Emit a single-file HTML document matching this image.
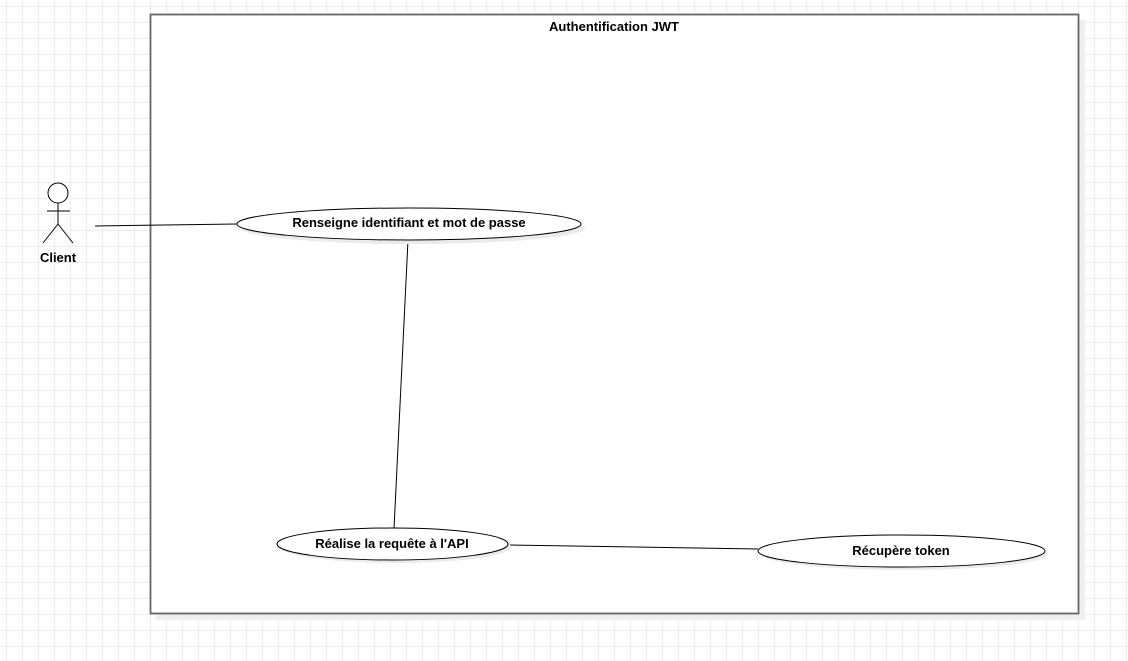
<!DOCTYPE html>
<html><head><meta charset="utf-8"><style>
html,body{margin:0;padding:0;width:1128px;height:661px;overflow:hidden;background:#fff}
</style></head><body>
<svg width="1128" height="661" xmlns="http://www.w3.org/2000/svg" style="display:block">
<defs>
<pattern id="g" x="6" y="6" width="16" height="16" patternUnits="userSpaceOnUse">
<path d="M0 0H16M0 0V16" stroke="#ececec" stroke-width="1" fill="none" transform="translate(0.5,0.5)"/>
</pattern>
</defs>
<rect width="1128" height="661" fill="url(#g)"/>
<rect x="156" y="20" width="929" height="600" fill="#efefef"/>
<rect x="150.5" y="14.5" width="928" height="599" fill="#fff" stroke="#666" stroke-width="1.8"/>
<text x="614" y="31" font-family="Liberation Sans, sans-serif" font-size="13" font-weight="bold" text-anchor="middle" fill="#000">Authentification JWT</text>
<g stroke="#000" stroke-width="1" fill="none">
<circle cx="58" cy="193" r="10" fill="#fff"/>
<line x1="58" y1="203" x2="58" y2="224"/>
<line x1="47" y1="211" x2="70" y2="211"/>
<line x1="58" y1="224" x2="43" y2="243"/>
<line x1="58" y1="224" x2="73" y2="243"/>
<line x1="95" y1="226" x2="237" y2="224"/>
<line x1="408" y1="240" x2="394" y2="529"/>
<line x1="508" y1="545" x2="758" y2="549"/>
</g>
<text x="58" y="262" font-family="Liberation Sans, sans-serif" font-size="13" font-weight="bold" text-anchor="middle">Client</text>
<g fill="#ebebeb">
<ellipse cx="413" cy="228" rx="172" ry="16"/>
<ellipse cx="396" cy="547" rx="115" ry="16"/>
<ellipse cx="905" cy="554" rx="143" ry="16"/>
</g>
<g fill="#fff" stroke="#000" stroke-width="1">
<ellipse cx="409" cy="224" rx="172" ry="16"/>
<ellipse cx="392.5" cy="544" rx="115.5" ry="16"/>
<ellipse cx="901.5" cy="551" rx="143.5" ry="16"/>
</g>
<g font-family="Liberation Sans, sans-serif" font-size="13" font-weight="bold" text-anchor="middle" fill="#000">
<text x="409" y="227">Renseigne identifiant et mot de passe</text>
<text x="392" y="548">Réalise la requête à l'API</text>
<text x="901" y="555">Récupère token</text>
</g>
</svg>
</body></html>
